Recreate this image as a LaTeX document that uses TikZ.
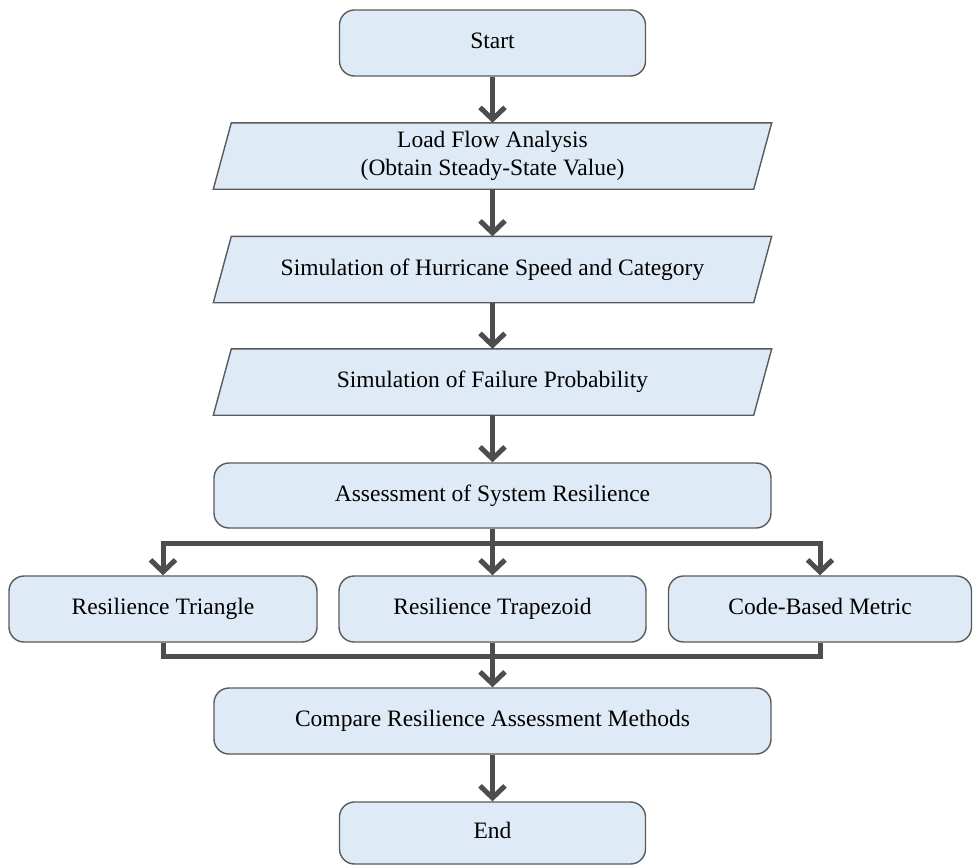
\documentclass[tikz,border=0pt]{standalone}
\usepackage{fontspec}
\setmainfont{Liberation Serif}
\usetikzlibrary{arrows.meta,backgrounds}
\definecolor{boxfill}{HTML}{DEEAF5}
\definecolor{boxline}{HTML}{5A5A5A}
\definecolor{arrowcol}{HTML}{4D4D4D}
\begin{document}
\begin{tikzpicture}[x=1pt,y=-1pt,
  txt/.style={font=\fontsize{23.5}{28.5}\selectfont},
  rbox/.style={txt, draw=boxline, fill=boxfill, line width=1.4pt, rounded corners=15pt,
    inner sep=0pt, align=center, minimum height=66pt, text height=16pt, text depth=5pt},
  pbox/.style={txt, draw=none, inner sep=0pt, align=center, minimum width=540pt, minimum height=66pt},
  pshape/.style={draw=boxline, fill=boxfill, line width=1.4pt},
  conn/.style={draw=arrowcol, line width=5pt},
  arr/.style={conn, -{Straight Barb[length=12pt,width=25pt]}}]
\useasboundingbox (0,0) rectangle (973,865);

\node[rbox, minimum width=306pt] (start) at (492.5,43) {Start};
\node[pbox] (load) at (492.5,156) {Load Flow Analysis\\(Obtain Steady-State Value)};
\node[pbox] (hur) at (492.5,269.5) {Simulation of Hurricane Speed and Category};
\node[pbox] (fail) at (492.5,382) {Simulation of Failure Probability};
\node[rbox, minimum width=557pt, minimum height=65pt] (assess) at (492.5,495.5) {Assessment of System Resilience};
\node[rbox, minimum width=308pt] (tri) at (163,609) {Resilience Triangle};
\node[rbox, minimum width=307pt] (trap) at (492.5,609) {Resilience Trapezoid};
\node[rbox, minimum width=303pt] (code) at (820,609) {Code-Based Metric};
\node[rbox, minimum width=557pt] (cmp) at (492.5,721) {Compare Resilience Assessment Methods};
\node[rbox, minimum width=306pt, minimum height=62pt] (end) at (492.5,833) {End};

\begin{scope}[on background layer]
  \foreach \n in {load,hur,fail}{
    \draw[pshape] ([xshift=9pt]\n.north west) -- ([xshift=9pt]\n.north east)
      -- ([xshift=-9pt]\n.south east) -- ([xshift=-9pt]\n.south west) -- cycle;
  }
\end{scope}

\draw[arr] (start) -- (load);
\draw[arr] (load) -- (hur);
\draw[arr] (hur) -- (fail);
\draw[arr] (fail) -- (assess);

\coordinate (br) at (492.5,543);
\draw[conn] (assess.south) -- (br);
\draw[arr] (br) -| (tri.north);
\draw[arr] (br) -| (code.north);
\draw[arr] (br) -- (trap.north);

\coordinate (jn) at (492.5,656);
\draw[conn] (tri.south) |- (jn);
\draw[conn] (code.south) |- (jn);
\draw[conn] (trap.south) -- (jn);
\draw[arr] (jn) -- (cmp.north);
\draw[arr] (cmp) -- (end);
\end{tikzpicture}
\end{document}
